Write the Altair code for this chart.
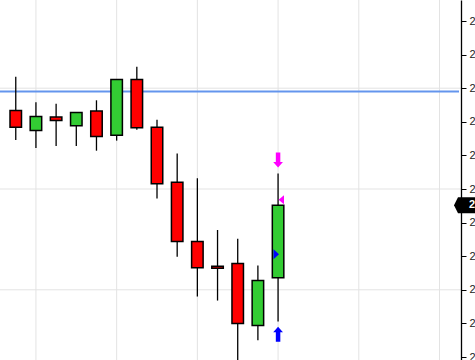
import altair as alt
import pandas as pd

# --- candle data (index, OHLC) ---
idx = list(range(14))
opens  = [2036.7, 2033.7, 2035.7, 2034.4, 2036.6, 2033.0, 2041.3, 2034.2, 2026.0, 2017.2, 2013.5, 2013.9, 2004.7, 2011.8]
highs  = [2041.7, 2037.9, 2037.7, 2036.4, 2038.2, 2041.3, 2043.2, 2035.3, 2030.3, 2026.6, 2018.9, 2017.6, 2013.6, 2027.3]
lows   = [2032.3, 2031.1, 2031.4, 2031.4, 2030.7, 2032.2, 2033.8, 2023.6, 2014.9, 2009.0, 2008.4, 1997.3, 2002.5, 2005.3]
closes = [2034.2, 2035.8, 2035.2, 2036.4, 2032.8, 2041.3, 2034.1, 2025.8, 2017.2, 2013.3, 2013.2, 2005.0, 2011.4, 2022.6]

# --- reference line, grid and axis ---
level_line = [2039.5]
grid_y = [2010, 2025, 2040]
grid_x = [1, 5, 9, 13, 17, 21]
tick_values = [2000, 2005, 2010, 2015, 2020, 2025, 2030, 2035, 2040, 2045, 2050]

# --- signals ---
sig_kind  = ["sell_arrow", "buy_arrow", "sell_tri", "buy_tri"]
sig_idx   = [13, 13, 13, 13]
sig_price = [2029.3, 2003.4, 2023.4, 2015.3]

X_DOMAIN = [-0.5333, 21.818]
Y_DOMAIN = [1999.554, 2053.125]

df = pd.DataFrame({"i": idx, "open": opens, "high": highs, "low": lows, "close": closes})
sig = pd.DataFrame({"kind": sig_kind, "i": sig_idx, "price": sig_price})

xs = alt.Scale(domain=X_DOMAIN, nice=False, zero=False)
ys = alt.Scale(domain=Y_DOMAIN, nice=False, zero=False)

yax = alt.Axis(
    orient="right", values=tick_values, format=".0f", grid=False,
    tickSize=5, tickColor="black", tickWidth=1, domainColor="black", domainWidth=1.3,
    labelPadding=3, labelFont="Liberation Sans", labelFontSize=11, labelColor="#222",
    title=None, labelOverlap=False, zindex=1)

def Y(field, **kw):
    return alt.Y(field, scale=ys, axis=yax, **kw)

def X(field):
    return alt.X(field, scale=xs, axis=None)

base = alt.Chart(df)

hgrid = alt.Chart(pd.DataFrame({"y": grid_y})).mark_rule(color="#e3e3e3", strokeWidth=1).encode(
    y=Y("y:Q"))
vgrid = alt.Chart(pd.DataFrame({"x": grid_x})).mark_rule(color="#e3e3e3", strokeWidth=1).encode(
    x=X("x:Q"))

level = alt.Chart(pd.DataFrame({"y": level_line})).mark_rule(color="#6495ED", strokeWidth=2).encode(
    y=Y("y:Q"), x=alt.value(0), x2=alt.value(459))

wick = base.mark_rule(color="black", strokeWidth=1.3).encode(
    x=X("i:Q"), y=Y("low:Q"), y2="high:Q")

body = base.mark_bar(size=11.5, stroke="black", strokeWidth=1.5).encode(
    x=X("i:Q"), y=Y("open:Q"), y2="close:Q",
    color=alt.condition("datum.open > datum.close", alt.value("#ff0000"), alt.value("#33cc33")))

down_path = "M-0.3,-1L0.3,-1L0.3,0.25L0.65,0.25L0,1L-0.65,0.25L-0.3,0.25Z"
up_path = "M-0.3,1L0.3,1L0.3,-0.25L0.65,-0.25L0,-1L-0.65,-0.25L-0.3,-0.25Z"
left_tri = "M-0.6,0L0.6,-1L0.6,1Z"
right_tri = "M0.55,0L-0.55,-1L-0.55,1Z"

def sig_layer(kind, shape, size, color, xoff=0):
    return alt.Chart(sig).transform_filter(alt.datum.kind == kind).mark_point(
        shape=shape, size=size, filled=True, color=color, opacity=1, strokeWidth=0, xOffset=xoff
    ).encode(x=X("i:Q"), y=Y("price:Q"))

s1 = sig_layer("sell_arrow", down_path, 225, "#ff00ff")
s2 = sig_layer("buy_arrow", up_path, 225, "#0000ff")
s3 = sig_layer("sell_tri", left_tri, 81, "#ff00ff", 3.2)
s4 = sig_layer("buy_tri", right_tri, 100, "#0000ff", -1.8)

last = df.tail(1)
tag_path = "M-1.25,0L-0.75,-1L2.3,-1L2.3,1L-0.75,1Z"
tag = alt.Chart(last).mark_point(shape=tag_path, size=256, filled=True, color="black", opacity=1, strokeWidth=0).encode(
    x=alt.value(464), y=Y("close:Q"))
tag_text = alt.Chart(last).mark_text(align="left", baseline="middle", color="white", fontWeight="bold",
                                     font="Liberation Sans", fontSize=11).encode(
    x=alt.value(469), y=Y("close:Q"), text=alt.Text("close:Q", format=".1f"))

chart = alt.layer(hgrid, vgrid, level, wick, body, s1, s2, s3, s4, tag, tag_text).properties(
    width=461, height=360, autosize="none",
    padding={"left": 0, "top": 0, "right": 14, "bottom": 0},
    background="white"
).configure_view(stroke=None)

chart.save("out.html", embed_options={"renderer": "svg", "actions": False})
